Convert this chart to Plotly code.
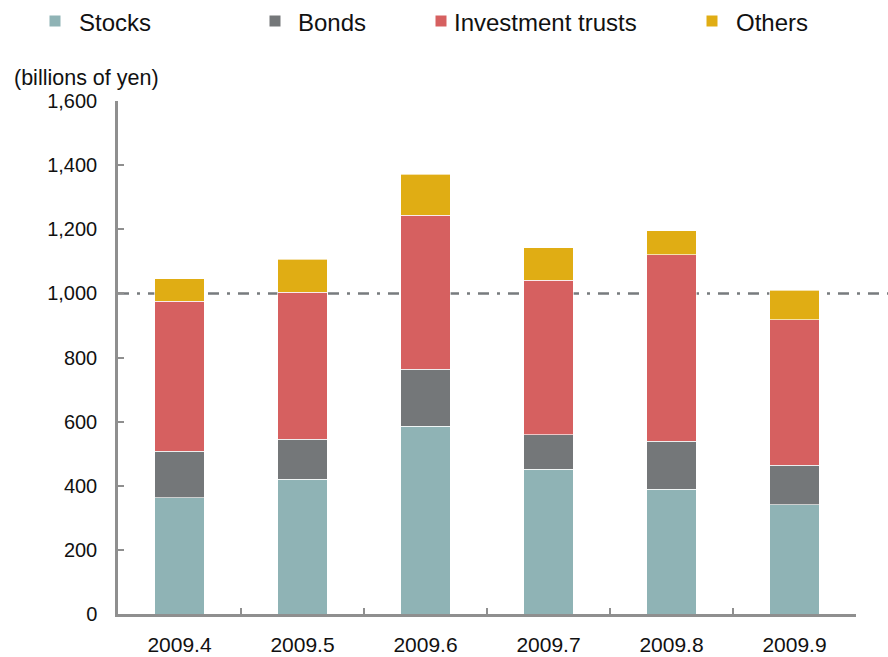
import plotly.graph_objects as go

# Monthly net purchases by asset type (billions of yen)
months = ["2009.4", "2009.5", "2009.6", "2009.7", "2009.8", "2009.9"]
stocks = [362, 420, 586, 452, 389, 340]
bonds = [146, 125, 177, 107, 150, 124]
investment_trusts = [467, 458, 481, 482, 582, 454]
others = [71, 103, 128, 102, 75, 92]

series_names = ["Stocks", "Bonds", "Investment trusts", "Others"]
series_values = [stocks, bonds, investment_trusts, others]
series_colors = ["#8fb3b5", "#747779", "#d66060", "#e0ad14"]

y_ticks = [0, 200, 400, 600, 800, 1000, 1200, 1400, 1600]
y_tick_text = ["0", "200", "400", "600", "800", "1,000", "1,200", "1,400", "1,600"]
reference_level = 1000

W, H = 888, 657
ML, MR, MT, MB = 118, 32, 101, 43
PW, PH = W - ML - MR, H - MT - MB
FONT = "Liberation Sans, Arial, sans-serif"
AXIS_GREY = "#8f8f8f"

fig = go.Figure()
for name, vals, col in zip(series_names, series_values, series_colors):
    fig.add_trace(go.Bar(
        x=months, y=vals, name=name,
        marker=dict(color=col, line=dict(color="rgba(255,255,255,0.8)", width=0.8)),
        width=0.4, showlegend=False,
    ))


def px_x(px):
    return (px - ML) / PW


def px_y(py):
    return (H - MB - py) / PH


shapes = [
    # dash-dot reference line at 1,000
    dict(type="line", xref="paper", yref="y", x0=0, x1=px_x(W), y0=reference_level,
         y1=reference_level, layer="below",
         line=dict(color="#777b7e", width=2.5, dash="11px,8px,3px,8px")),
]
annotations = []

# legend row across the top
legend_marker_x = [55, 275, 441, 712]
legend_text_x = [77, 296, 452, 734]
legend_y = 22
sq = 11
for name, col, mx, tx in zip(series_names, series_colors, legend_marker_x, legend_text_x):
    shapes.append(dict(type="rect", xref="paper", yref="paper",
                       x0=px_x(mx - sq / 2), x1=px_x(mx + sq / 2),
                       y0=px_y(legend_y - 1 + sq / 2), y1=px_y(legend_y - 1 - sq / 2),
                       fillcolor=col, line=dict(width=0)))
    annotations.append(dict(text=name, xref="paper", yref="paper", x=px_x(tx), y=px_y(legend_y),
                            xanchor="left", yanchor="middle", showarrow=False,
                            font=dict(family=FONT, size=24, color="#111111")))

# unit label above the value axis
annotations.append(dict(text="(billions of yen)", xref="paper", yref="paper",
                        x=px_x(86), y=px_y(78), xanchor="center", yanchor="middle",
                        showarrow=False, font=dict(family=FONT, size=21.5, color="#111111")))

fig.update_layout(
    width=W, height=H,
    margin=dict(l=ML, r=MR, t=MT, b=MB, pad=0),
    paper_bgcolor="white", plot_bgcolor="white",
    barmode="stack", bargap=0.6,
    font=dict(family=FONT, size=20, color="#111111"),
    shapes=shapes, annotations=annotations,
    xaxis=dict(
        type="category", showline=True, linecolor=AXIS_GREY, linewidth=2.5,
        ticks="inside", tickson="boundaries", ticklen=6, tickcolor=AXIS_GREY, tickwidth=1.5,
        showgrid=False, zeroline=False, ticklabelstandoff=10, automargin=False,
        tickfont=dict(family=FONT, size=21, color="#111111"),
    ),
    yaxis=dict(
        range=[0, 1600], tickvals=y_ticks, ticktext=y_tick_text,
        showline=True, linecolor=AXIS_GREY, linewidth=2.5,
        ticks="inside", ticklen=6, tickcolor=AXIS_GREY, tickwidth=1.5,
        showgrid=False, zeroline=False, ticklabelstandoff=14, automargin=False,
        tickfont=dict(family=FONT, size=20, color="#111111"),
    ),
)

fig.write_html("out.html")
